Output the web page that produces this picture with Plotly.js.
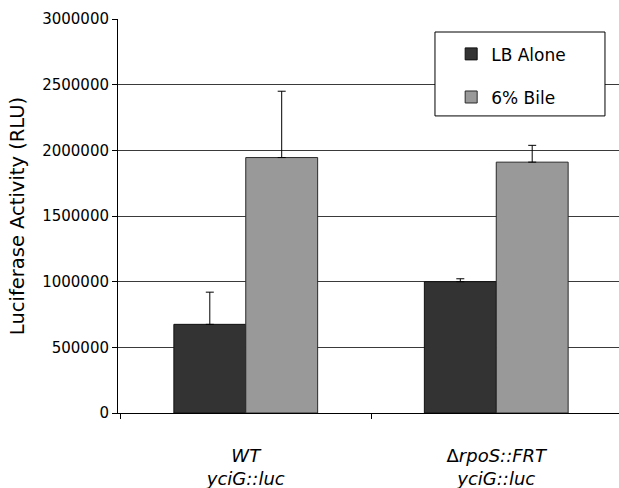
<!DOCTYPE html>
<html>
<head>
<meta charset="utf-8">
<script src="https://cdn.plot.ly/plotly-3.0.1.min.js"></script>
<style>html,body{margin:0;padding:0;background:#fff;}#chart{width:619px;height:488px;}</style>
</head>
<body>
<div id="chart"></div>
<script>
var categories = ['<i>WT</i><br><i>yciG::luc</i>', '\u0394<i>rpoS::FRT</i><br><i>yciG::luc</i>'];
var seriesNames = ['LB Alone', '6% Bile'];
var lbAlone = [675000, 1000000];
var lbAloneErr = [245000, 22000];
var bile = [1945000, 1910000];
var bileErr = [505000, 128000];
var yTickVals = [0, 500000, 1000000, 1500000, 2000000, 2500000, 3000000];
var yTickText = ['0', '500000', '1000000', '1500000', '2000000', '2500000', '3000000'];

var FONT = 'DejaVu Sans, Liberation Sans, Arial, sans-serif';

var traces = [
  {
    type: 'bar', name: seriesNames[0], x: categories, y: lbAlone,
    legendgroup: 'a',
    marker: {color: '#333333', line: {color: '#111111', width: 1}},
    error_y: {type: 'data', symmetric: false, array: lbAloneErr, arrayminus: [0, 0],
              color: '#000000', thickness: 1, width: 4}
  },
  {
    type: 'bar', name: seriesNames[1], x: categories, y: bile,
    legendgroup: 'b',
    marker: {color: '#999999', line: {color: '#2a2a2a', width: 1}},
    error_y: {type: 'data', symmetric: false, array: bileErr, arrayminus: [0, 0],
              color: '#000000', thickness: 1, width: 4}
  }
];

var layout = {
  width: 619, height: 488,
  margin: {l: 118, r: 0, t: 19, b: 75, pad: 0},
  paper_bgcolor: '#ffffff', plot_bgcolor: '#ffffff',
  font: {family: FONT, color: '#000000'},
  barmode: 'group', bargap: 0.426, bargroupgap: 0,
  showlegend: true,
  legend: {
    x: 0.665, y: 0.956, xanchor: 'left', yanchor: 'top',
    bgcolor: 'rgba(0,0,0,0)', borderwidth: 0,
    font: {family: FONT, size: 17, color: '#000000'},
    tracegroupgap: 18, itemwidth: 30, traceorder: 'grouped'
  },
  xaxis: {
    type: 'category', range: [-0.51, 1.49], fixedrange: true,
    showline: true, linecolor: '#000000', linewidth: 1,
    ticks: 'outside', tickson: 'boundaries', ticklen: 5, tickcolor: '#000000',
    showgrid: false, zeroline: false,
    tickfont: {family: FONT, size: 18, color: '#000000'},
    ticklabelstandoff: 26
  },
  yaxis: {
    range: [0, 3000000], fixedrange: true,
    tickmode: 'array', tickvals: yTickVals, ticktext: yTickText,
    showline: true, linecolor: '#000000', linewidth: 1,
    ticks: 'outside', ticklen: 5, tickcolor: '#000000',
    showgrid: true, gridcolor: '#3a3a3a', gridwidth: 1,
    zeroline: false,
    tickfont: {family: FONT, size: 15, color: '#000000'},
    title: {text: 'Luciferase Activity (RLU)', font: {family: FONT, size: 19.5, color: '#000000'}, standoff: 12}
  },
  shapes: [
    {type: 'rect', xref: 'paper', yref: 'paper', x0: 0.6327, x1: 0.972, y0: 0.754, y1: 0.967,
     fillcolor: '#ffffff', line: {color: '#000000', width: 1}, layer: 'above'}
  ]
};

Plotly.newPlot('chart', traces, layout, {displayModeBar: false, staticPlot: true});
</script>
</body>
</html>
